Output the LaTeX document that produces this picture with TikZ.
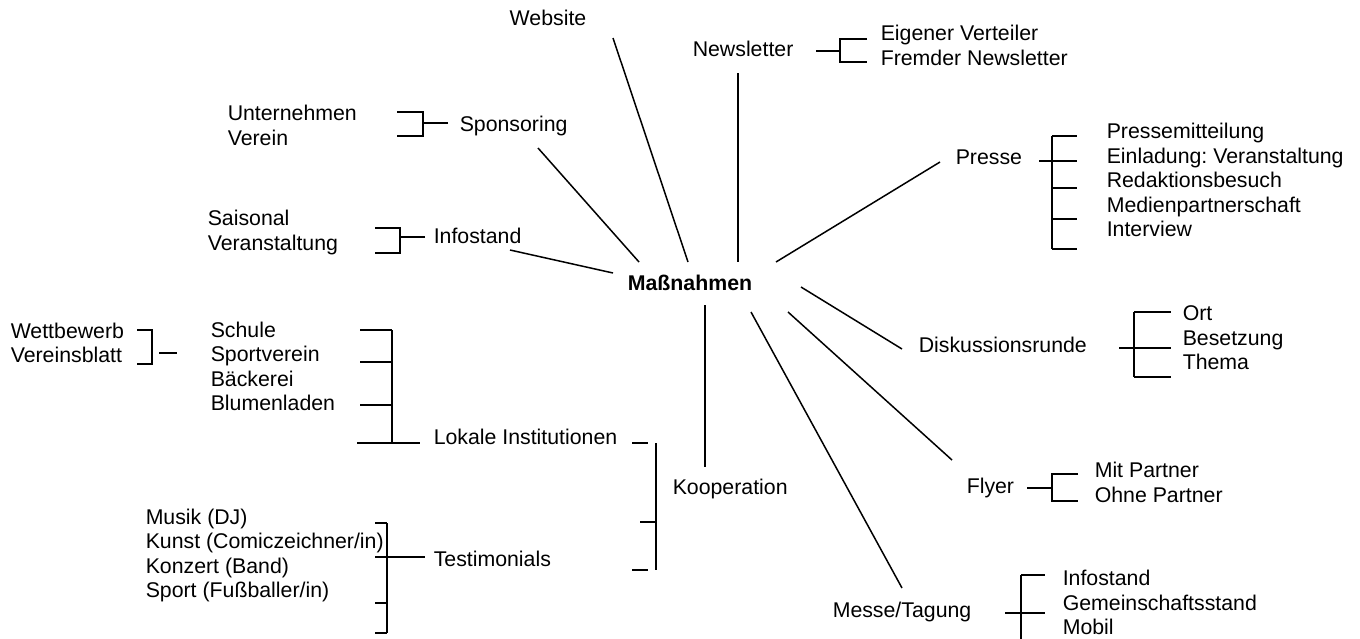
\documentclass[tikz,border=0pt]{standalone}
\usepackage{fontspec}
\setmainfont{Liberation Sans}
\frenchspacing

\begin{document}
\begin{tikzpicture}[
    x=1pt, y=-1pt,
    font=\fontsize{21.3}{24.5}\selectfont,
    line width=1.5pt,
    txt/.style={anchor=base west, inner sep=0pt},
    hub/.style={anchor=base, inner sep=0pt, font=\fontsize{21.3}{24.5}\selectfont\bfseries}
]
    \useasboundingbox (0,0) rectangle (1360,638);

    % Centre
    \node[hub] (mass) at (690,290) {Maßnahmen};

    % Main topics
    \node[anchor=base, inner sep=0pt] (website) at (548,25) {Website};
    \node[txt] (newsletter) at (692,56)  {Newsletter};
    \node[txt] (sponsoring) at (459,131) {Sponsoring};
    \node[txt] (presse)     at (955,164) {Presse};
    \node[txt] (infostand)  at (433,243) {Infostand};
    \node[txt] (diskussion) at (918,352) {Diskussionsrunde};
    \node[txt] (lokale)     at (433,444) {Lokale Institutionen};
    \node[txt] (kooperation) at (672,494) {Kooperation};
    \node[txt] (flyer)      at (966,493) {Flyer};
    \node[txt] (testimonials) at (433,566) {Testimonials};
    \node[txt] (messe)      at (832,617) {Messe/Tagung};

    % Spoke ends
    \coordinate (web-a) at (613,38);   \coordinate (web-b) at (688,262);
    \coordinate (news-a) at (738,73);  \coordinate (news-b) at (738,262);
    \coordinate (spon-a) at (538,148); \coordinate (spon-b) at (639,262);
    \coordinate (pres-a) at (940,162); \coordinate (pres-b) at (776,262);
    \coordinate (info-a) at (510,250); \coordinate (info-b) at (613,273);
    \coordinate (disk-a) at (801,287); \coordinate (disk-b) at (902,349);
    \coordinate (koop-a) at (705,305); \coordinate (koop-b) at (705,467);
    \coordinate (flyr-a) at (788,312); \coordinate (flyr-b) at (952,460);
    \coordinate (mess-a) at (751,312); \coordinate (mess-b) at (902,588);

    % Spokes
    \draw (web-a)  -- (web-b);
    \draw (news-a) -- (news-b);
    \draw (spon-a) -- (spon-b);
    \draw (pres-a) -- (pres-b);
    \draw (info-a) -- (info-b);
    \draw (disk-a) -- (disk-b);
    \draw (koop-a) -- (koop-b);
    \draw (flyr-a) -- (flyr-b);
    \draw (mess-a) -- (mess-b);

    % Newsletter
    \node[txt] (news1) at (880,40) {Eigener Verteiler};
    \node[txt] (news2) at (880,65) {Fremder Newsletter};
    \draw (816,51) -- (840,51);
    \draw (867,39) -- (840,39) -- (840,62) -- (867,62);

    % Sponsoring
    \node[txt] (spon1) at (227,120) {Unternehmen};
    \node[txt] (spon2) at (227,145) {Verein};
    \draw (448,123) -- (423,123);
    \draw (397,112) -- (423,112) -- (423,136) -- (397,136);

    % Infostand
    \node[txt] (info1) at (207,225) {Saisonal};
    \node[txt] (info2) at (207,250) {Veranstaltung};
    \draw (425,237) -- (400,237);
    \draw (375,228) -- (400,228) -- (400,253) -- (375,253);

    % Presse
    \node[txt] (pres1) at (1106,138) {Pressemitteilung};
    \node[txt] (pres2) at (1106,163) {Einladung: Veranstaltung};
    \node[txt] (pres3) at (1106,187) {Redaktionsbesuch};
    \node[txt] (pres4) at (1106,212) {Medienpartnerschaft};
    \node[txt] (pres5) at (1106,236) {Interview};
    \draw (1052,136) -- (1052,249);
    \draw (1039,161) -- (1077,161);
    \draw (1052,136) -- (1077,136);
    \draw (1052,188) -- (1077,188);
    \draw (1052,219) -- (1077,219);
    \draw (1052,249) -- (1077,249);

    % Diskussionsrunde
    \node[txt] (disk1) at (1182,320) {Ort};
    \node[txt] (disk2) at (1182,345) {Besetzung};
    \node[txt] (disk3) at (1182,369) {Thema};
    \draw (1134,312) -- (1134,377);
    \draw (1134,312) -- (1171,312);
    \draw (1119,348) -- (1171,348);
    \draw (1134,377) -- (1171,377);

    % Lokale Institutionen
    \node[txt] (wett)  at (10,338)  {Wettbewerb};
    \node[txt] (blatt) at (10,362)  {Vereinsblatt};
    \draw (137,330) -- (152,330) -- (152,364) -- (137,364);
    \draw (159,353) -- (177,353);
    \node[txt] (lok1) at (210,337) {Schule};
    \node[txt] (lok2) at (210,361) {Sportverein};
    \node[txt] (lok3) at (210,386) {Bäckerei};
    \node[txt] (lok4) at (210,410) {Blumenladen};
    \draw (392,330) -- (392,443);
    \draw (360,330) -- (392,330);
    \draw (360,362) -- (392,362);
    \draw (360,405) -- (392,405);
    \draw (357,443) -- (420,443);

    % Kooperation
    \draw (632,443) -- (648,443);
    \draw (656,443) -- (656,570);
    \draw (640,522) -- (656,522);
    \draw (632,570) -- (648,570);

    % Testimonials
    \node[txt] (test1) at (145,524) {Musik (DJ)};
    \node[txt] (test2) at (145,548) {Kunst (Comiczeichner/in)};
    \node[txt] (test3) at (145,573) {Konzert (Band)};
    \node[txt] (test4) at (145,597) {Sport (Fußballer/in)};
    \draw (387,523) -- (387,633);
    \draw (375,523) -- (387,523);
    \draw (375,557) -- (425,557);
    \draw (375,603) -- (387,603);
    \draw (375,633) -- (387,633);

    % Flyer
    \node[txt] (flyr1) at (1094,477) {Mit Partner};
    \node[txt] (flyr2) at (1094,502) {Ohne Partner};
    \draw (1027,488) -- (1052,488);
    \draw (1078,474) -- (1052,474) -- (1052,501) -- (1078,501);

    % Messe/Tagung
    \node[txt] (mess1) at (1062,585) {Infostand};
    \node[txt] (mess2) at (1062,610) {Gemeinschaftsstand};
    \node[txt] (mess3) at (1062,634) {Mobil};
    \draw (1021,575) -- (1021,640);
    \draw (1021,575) -- (1045,575);
    \draw (1005,613) -- (1045,613);

\end{tikzpicture}
\end{document}
